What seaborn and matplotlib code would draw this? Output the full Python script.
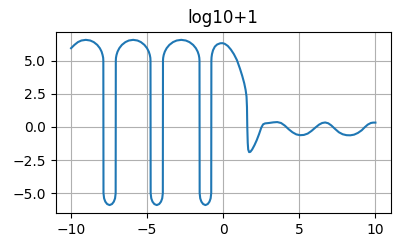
import matplotlib
matplotlib.use("Agg")
import matplotlib.pyplot as plt
import seaborn as sns
import pandas as pd

title = "log10+1"

# left part: oscillations (arcs and dips)
x_left = [
    -10.0, -9.78, -9.55, -9.32, -9.03, -8.74, -8.51, -8.28, -8.11, -7.995, -7.93, -7.89, -7.88,
    -7.87, -7.83, -7.75, -7.63, -7.47, -7.31, -7.19, -7.11, -7.07,
    -7.06, -7.05, -7.014, -6.946, -6.83, -6.66, -6.43, -6.205, -5.92, -5.635, -5.41, -5.18, -5.01, -4.894, -4.826, -4.79, -4.78,
    -4.77, -4.73, -4.65, -4.53, -4.37, -4.21, -4.09, -4.01, -3.97,
    -3.96, -3.948, -3.912, -3.84, -3.72, -3.54, -3.30, -3.06, -2.76, -2.46, -2.22, -1.98, -1.80, -1.68, -1.608, -1.572, -1.56,
    -1.55, -1.512, -1.436, -1.322, -1.17, -1.018, -0.904, -0.828, -0.79,
]
y_left = [
    5.95, 6.2, 6.41, 6.53, 6.58, 6.53, 6.41, 6.2, 5.95, 5.69, 5.44, 5.22, 5.0,
    -5.0, -5.39, -5.64, -5.82, -5.9, -5.82, -5.64, -5.39, -5.0,
    5.0, 5.22, 5.44, 5.69, 5.95, 6.2, 6.41, 6.53, 6.58, 6.53, 6.41, 6.2, 5.95, 5.69, 5.44, 5.22, 5.0,
    -5.0, -5.39, -5.64, -5.82, -5.9, -5.82, -5.64, -5.39, -5.0,
    5.0, 5.22, 5.44, 5.69, 5.95, 6.2, 6.41, 6.53, 6.58, 6.53, 6.41, 6.2, 5.95, 5.69, 5.44, 5.22, 5.0,
    -5.0, -5.39, -5.64, -5.82, -5.9, -5.82, -5.64, -5.39, -5.0,
]

# right part: last hump, drop and small waves
x_right = [
    -0.78, -0.77, -0.74, -0.67, -0.55, -0.4, -0.2, -0.05, 0.1, 0.3, 0.5, 0.7, 0.9, 1.1, 1.25, 1.38, 1.47, 1.53, 1.56,
    1.58, 1.61, 1.64, 1.70, 1.78, 1.9, 2.05, 2.2, 2.35, 2.5, 2.62, 2.75, 3.0, 3.3, 3.55, 3.8, 4.05, 4.3, 4.55, 4.8,
    5.05, 5.3, 5.55, 5.8, 6.05, 6.3, 6.5, 6.7, 6.9, 7.1, 7.35, 7.6, 7.85, 8.1, 8.35, 8.6, 8.85, 9.1, 9.3, 9.5, 9.7, 9.85, 10.0,
]
y_right = [
    5.0, 5.25, 5.5, 5.8, 6.07, 6.23, 6.32, 6.33, 6.28, 6.12, 5.85, 5.5, 5.05, 4.4, 3.85, 3.3, 2.8, 2.3, 1.5,
    0.0, -1.2, -1.7, -1.9, -1.88, -1.7, -1.38, -1.0, -0.55, -0.05, 0.2, 0.27, 0.3, 0.35, 0.37, 0.3, 0.1, -0.17, -0.4, -0.56,
    -0.62, -0.6, -0.5, -0.3, -0.05, 0.18, 0.3, 0.34, 0.28, 0.12, -0.15, -0.4, -0.55, -0.62, -0.63, -0.58, -0.45, -0.25, -0.02, 0.18, 0.3, 0.33, 0.33,
]

df = pd.DataFrame({"x": x_left + x_right, "y": y_left + y_right})

fig = plt.figure(figsize=(3.99, 2.43), dpi=100)
ax = fig.add_axes([0.140, 0.122, 0.839, 0.748])
sns.lineplot(data=df, x="x", y="y", ax=ax, estimator=None, sort=False,
             color="#1f77b4", linewidth=1.5)
ax.grid(True)
ax.set_xlabel("")
ax.set_ylabel("")
ax.set_title(title)
ax.set_xticks([-10, -5, 0, 5, 10])
ax.set_yticks([-5.0, -2.5, 0.0, 2.5, 5.0])
fig.savefig("out.png", dpi=100)
